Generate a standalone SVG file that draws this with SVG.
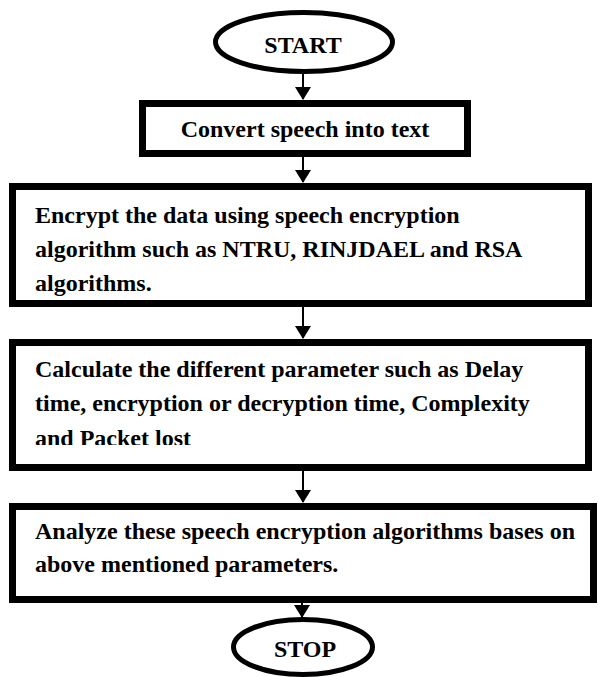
<svg xmlns="http://www.w3.org/2000/svg" width="598" height="677" viewBox="0 0 598 677">
<style>
.box{fill:#fff;stroke:#000;stroke-width:7}
.term{fill:#fff;stroke:#000;stroke-width:5}
.t{font-family:"Liberation Serif","Times New Roman",serif;font-weight:bold;font-size:24px;fill:#000}
.c{stroke:#000;stroke-width:2;fill:none}
.ah{fill:#000}
</style>
<defs>
<clipPath id="clip3"><rect x="0" y="340" width="598" height="105"/></clipPath>
</defs>
<rect width="598" height="677" fill="#fff"/>
<g id="connectors">
<line class="c" x1="303" y1="74" x2="303" y2="99"/>
<path class="ah" d="M295,87 L311,87 L303,100 Z"/>
<line class="c" x1="303" y1="157" x2="303" y2="182"/>
<path class="ah" d="M295,170 L311,170 L303,183 Z"/>
<line class="c" x1="303" y1="307" x2="303" y2="338"/>
<path class="ah" d="M295,326 L311,326 L303,339 Z"/>
<line class="c" x1="303" y1="471" x2="303" y2="502"/>
<path class="ah" d="M295,490 L311,490 L303,503 Z"/>
<line class="c" x1="302" y1="603" x2="302" y2="617"/>
<path class="ah" d="M294,605 L310,605 L302,618 Z"/>
</g>
<g id="start">
<ellipse class="term" cx="304" cy="42" rx="88.5" ry="29.5"/>
<text class="t" x="303" y="53" text-anchor="middle">START</text>
</g>
<g id="convert">
<rect class="box" x="142.5" y="103.5" width="325" height="50"/>
<text class="t" x="305" y="137" text-anchor="middle">Convert speech into text</text>
</g>
<g id="encrypt">
<rect class="box" x="12.5" y="186.5" width="576" height="117"/>
<text class="t" x="35" y="223">Encrypt the data using speech encryption</text>
<text class="t" x="35" y="257">algorithm such as NTRU, RINJDAEL and RSA</text>
<text class="t" x="35" y="291">algorithms.</text>
</g>
<g id="calculate">
<rect class="box" x="12.5" y="342.5" width="576" height="125"/>
<text class="t" x="35" y="377">Calculate the different parameter such as Delay</text>
<text class="t" x="35" y="411">time, encryption or decryption time, Complexity</text>
<text class="t" x="35" y="446" clip-path="url(#clip3)">and Packet lost</text>
</g>
<g id="analyze">
<rect class="box" x="12.5" y="506.5" width="581" height="93"/>
<text class="t" x="35" y="539">Analyze these speech encryption algorithms bases on</text>
<text class="t" x="35" y="572">above mentioned parameters.</text>
</g>
<g id="stop">
<ellipse class="term" cx="303" cy="647" rx="69.5" ry="27.5"/>
<text class="t" x="305" y="657" text-anchor="middle">STOP</text>
</g>
</svg>
